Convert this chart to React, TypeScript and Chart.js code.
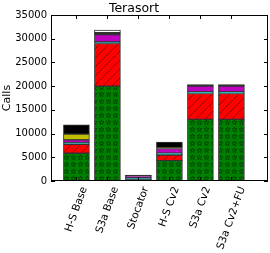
import React, { useEffect, useRef } from "react";
import { Chart, registerables } from "chart.js";

Chart.register(...registerables);

const categories = ["H-S Base", "S3a Base", "Stocator", "H-S Cv2", "S3a Cv2", "S3a Cv2+FU"];
const greenVals = [5850, 20000, 300, 4300, 13000, 13000];
const redVals = [1900, 9000, 0, 1150, 5450, 5450];
const tealVals = [150, 350, 150, 150, 100, 100];
const cyanVals = [200, 0, 200, 250, 250, 250];
const magentaVals = [570, 1500, 450, 1000, 1200, 1200];
const yellowVals = [1200, 0, 0, 200, 0, 0];
const blackVals = [1950, 450, 150, 1150, 350, 350];
const whiteVals = [0, 500, 0, 0, 0, 0];
const yTicks = [0, 5000, 10000, 15000, 20000, 25000, 30000, 35000];
const titleText = "Terasort";
const yLabel = "Calls";

const X_FONT_SIZE = 10.5;
const X_ROT = 70;

function makeHatch(bg: string, kind: "slash" | "star"): CanvasPattern | string {
  const c = document.createElement("canvas");
  const s = kind === "slash" ? 9 : 7;
  c.width = s;
  c.height = s;
  const g = c.getContext("2d");
  if (!g) return bg;
  g.fillStyle = bg;
  g.fillRect(0, 0, s, s);
  if (kind === "slash") {
    g.strokeStyle = "rgba(90,0,0,0.75)";
    g.lineWidth = 0.8;
    g.beginPath();
    g.moveTo(-1, s + 1);
    g.lineTo(s + 1, -1);
    g.stroke();
  } else {
    g.strokeStyle = "rgba(0,40,0,0.8)";
    g.lineWidth = 0.7;
    const cx = s / 2, cy = s / 2, R = 2.6, r = 1.1;
    g.beginPath();
    for (let i = 0; i < 10; i++) {
      const ang = -Math.PI / 2 + (i * Math.PI) / 5;
      const rr = i % 2 === 0 ? R : r;
      const x = cx + rr * Math.cos(ang), y = cy + rr * Math.sin(ang);
      if (i === 0) g.moveTo(x, y); else g.lineTo(x, y);
    }
    g.closePath();
    g.stroke();
  }
  const p = g.createPattern(c, "repeat");
  return p || bg;
}

// Centre each rotated x label's bounding box on its tick (as matplotlib's ha="center").
const centerRotatedLabels = {
  id: "centerRotatedLabels",
  beforeDraw(chart: any) {
    const sx = chart.scales.x;
    if (!sx || typeof sx.getLabelItems !== "function") return;
    sx._labelItems = null;
    const items = sx.getLabelItems(chart.chartArea);
    const cosR = Math.cos((X_ROT * Math.PI) / 180);
    const ctx = chart.ctx;
    ctx.save();
    ctx.font = `${X_FONT_SIZE}px "DejaVu Sans"`;
    items.forEach((it: any) => {
      const text = Array.isArray(it.label) ? it.label.join(" ") : String(it.label);
      const w = ctx.measureText(text).width;
      if (it.options && it.options.translation) it.options.translation[0] += (cosR * w) / 2;
    });
    ctx.restore();
  },
};

const frameAndTicks = {
  id: "frameAndTicks",
  afterDatasetsDraw(chart: any) {
    const { ctx, chartArea: a, scales } = chart;
    ctx.save();
    ctx.strokeStyle = "#000";
    ctx.lineWidth = 1;
    ctx.strokeRect(Math.round(a.left) + 0.5, Math.round(a.top) + 0.5, Math.round(a.right - a.left) - 1, Math.round(a.bottom - a.top) - 1);
    const L = 4;
    ctx.beginPath();
    scales.y.ticks.forEach((t: any) => {
      const y = Math.round(scales.y.getPixelForValue(t.value)) + 0.5;
      ctx.moveTo(a.left, y); ctx.lineTo(a.left + L, y);
      ctx.moveTo(a.right, y); ctx.lineTo(a.right - L, y);
    });
    scales.x.ticks.forEach((t: any) => {
      const x = Math.round(scales.x.getPixelForValue(t.value)) + 0.5;
      ctx.moveTo(x, a.top); ctx.lineTo(x, a.top + L);
      ctx.moveTo(x, a.bottom); ctx.lineTo(x, a.bottom - L);
    });
    ctx.stroke();
    ctx.restore();
  },
};

export default function App() {
  const ref = useRef<HTMLCanvasElement | null>(null);
  useEffect(() => {
    document.body.style.margin = "0";
    const canvas = ref.current;
    if (!canvas) return;
    const mk = (vals: number[]) => vals.map((v, i) => ({ x: i, y: v }));
    const series = [
      { label: "green", vals: greenVals, bg: makeHatch("#008000", "star") },
      { label: "red", vals: redVals, bg: makeHatch("#ff0000", "slash") },
      { label: "teal", vals: tealVals, bg: "#008080" },
      { label: "cyan", vals: cyanVals, bg: "#00bfbf" },
      { label: "magenta", vals: magentaVals, bg: "#bf00bf" },
      { label: "yellow", vals: yellowVals, bg: "#bfbf00" },
      { label: "black", vals: blackVals, bg: "#000000" },
      { label: "white", vals: whiteVals, bg: "#ffffff" },
    ];
    const chart = new Chart(canvas, {
      type: "bar",
      data: {
        datasets: series.map((s) => ({
          label: s.label,
          data: mk(s.vals),
          backgroundColor: s.bg as any,
          borderColor: "#333",
          borderWidth: 1,
          borderSkipped: false,
          barThickness: 26,
        })),
      },
      plugins: [centerRotatedLabels, frameAndTicks],
      options: {
        animation: false,
        responsive: false,
        maintainAspectRatio: false,
        layout: { padding: { left: 0, right: 2, top: 0, bottom: 0 } },
        plugins: {
          legend: { display: false },
          tooltip: { enabled: false },
          title: {
            display: true,
            text: titleText,
            color: "#000",
            font: { family: "DejaVu Sans", size: 12.5, weight: "normal", lineHeight: 1 },
            padding: { top: 2.5, bottom: 0 },
          },
        },
        scales: {
          x: {
            type: "linear",
            stacked: true,
            offset: false,
            min: -0.82,
            max: 6.18,
            grid: { display: false, drawTicks: false, offset: false },
            border: { display: false },
            afterBuildTicks: (scale: any) => {
              scale.ticks = categories.map((_, i) => ({ value: i }));
            },
            afterFit: (scale: any) => {
              scale.height = 72;
            },
            ticks: {
              autoSkip: false,
              minRotation: X_ROT,
              maxRotation: X_ROT,
              padding: 4,
              color: "#000",
              font: { family: "DejaVu Sans", size: X_FONT_SIZE },
              callback: (v: any) => categories[v as number] ?? "",
            },
          },
          y: {
            stacked: true,
            min: 0,
            max: 35000,
            grid: { display: false, drawTicks: false },
            border: { display: false },
            afterBuildTicks: (scale: any) => {
              scale.ticks = yTicks.map((v) => ({ value: v }));
            },
            afterFit: (scale: any) => {
              scale.width = 51;
            },
            ticks: {
              padding: 4,
              color: "#000",
              font: { family: "DejaVu Sans", size: 10 },
              callback: (v: any) => String(v),
            },
            title: {
              display: true,
              text: yLabel,
              color: "#000",
              font: { family: "DejaVu Sans", size: 11 },
              padding: { top: 1, bottom: 0 },
            },
          },
        },
      },
    });
    return () => chart.destroy();
  }, []);
  return (
    <div style={{ width: 270, height: 253 }}>
      <canvas ref={ref} width={270} height={253} style={{ display: "block" }} />
    </div>
  );
}
